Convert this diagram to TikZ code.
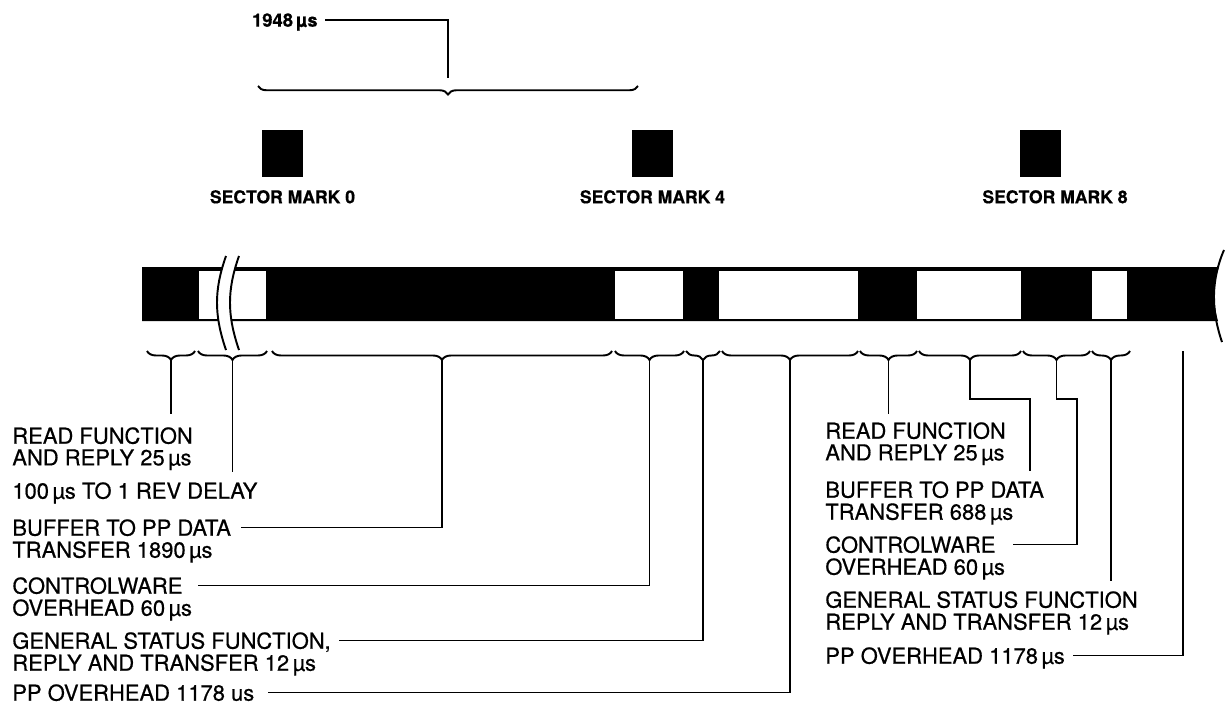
\documentclass[tikz,border=0pt]{standalone}
\usepackage{fontspec}
\setmainfont{TeX Gyre Heros}[FakeBold=0.6]
\usetikzlibrary{positioning,decorations.pathreplacing}

\begin{document}
\begin{tikzpicture}[
    x=0.02cm, y=-0.02cm,
    lbl/.style={font=\fontsize{12.5}{14}\selectfont, inner sep=0pt, text depth=0pt, anchor=west},
    lbltwo/.style={lbl, below=2.8pt of #1.south west, anchor=north west},
    smlbl/.style={font=\fontsize{10}{12}\selectfont\bfseries, inner sep=0pt, text depth=0pt},
    sectormark/.style={fill=black, minimum width=0.82cm, minimum height=0.94cm, inner sep=0pt},
    conn/.style={line width=0.9pt},
    brc/.style={decorate, decoration={brace, mirror, amplitude=0.18cm}, line width=1.1pt}
]
\useasboundingbox (0,0) rectangle (1225,703);

% Sector marks
\node[sectormark] (m0) at (282.5,153.5) {};
\node[sectormark] (m4) at (652.5,153.5) {};
\node[sectormark] (m8) at (1040,153.5) {};
\node[smlbl, below=0.25cm of m0] (s0) {SECTOR MARK 0};
\node[smlbl, below=0.25cm of m4] (s4) {SECTOR MARK 4};
\node[smlbl, below=0.25cm of m8, xshift=0.3cm] (s8) {SECTOR MARK 8};

% Time between marks
\node[smlbl, font=\fontsize{10.5}{13}\selectfont\bfseries, anchor=east] (n1948) at (318,20) {1948\,µs};
\draw[brc, decoration={brace, amplitude=0.17cm}] (258,86) -- coordinate[pos=0.5, yshift=0.17cm] (top) (638,86);
\draw[conn] ([xshift=0.14cm]n1948.east) -| (top);

% Track
\fill (142,267) -- (1219,267) .. controls (1213,285) and (1213,303) .. (1218,321) -- (142,321) -- cycle;
\draw[line width=1.1pt] (1224,250) .. controls (1211,280) and (1211,310) .. (1222,342);
\foreach \a/\b in {199/266, 615/683, 719/858, 917/1021, 1092/1127}
    \fill[white] (\a,271) rectangle (\b,319);

% Break in the track
\fill[white] (226,256) .. controls (214,290) and (214,315) .. (226,350) -- (239,350) .. controls (227,315) and (227,290) .. (239,256) -- cycle;
\draw[line width=1.1pt] (226,256) .. controls (214,290) and (214,315) .. (226,350);
\draw[line width=1.1pt] (239,256) .. controls (227,290) and (227,315) .. (239,350);

% Braces under the track
\foreach \a/\b/\n in {147/195/1, 198/267/2, 272/612/3, 615/684/4, 686/720/5, 722/858/6, 860/917/7, 919/1021/8, 1023/1090/9, 1092/1130/10}
    \draw[brc] (\a,351) -- coordinate[pos=0.5, yshift=-0.18cm] (b\n) (\b,351);
\coordinate (ppr) at (1183,351);
\coordinate (j8) at (1030,399);
\coordinate (j9) at (1077,399);

% Left labels
\node[lbl] (lrf) at (12,435.5) {READ FUNCTION};
\node[lbltwo=lrf] (lrf2) {AND REPLY 25\,µs};
\node[lbl] (ldel) at (12,490.5) {100\,µs TO 1 REV DELAY};
\node[lbl] (lbuf) at (12,527.5) {BUFFER TO PP DATA};
\node[lbltwo=lbuf] (lbuf2) {TRANSFER 1890\,µs};
\node[lbl] (lcw) at (12,585.5) {CONTROLWARE};
\node[lbltwo=lcw] (lcw2) {OVERHEAD 60\,µs};
\node[lbl] (lgs) at (12,640.5) {GENERAL STATUS FUNCTION,};
\node[lbltwo=lgs] (lgs2) {REPLY AND TRANSFER 12\,µs};
\node[lbl] (lpp) at (12,692.5) {PP OVERHEAD 1178 us};

% Right labels
\node[lbl] (rrf) at (825,430.5) {READ FUNCTION};
\node[lbltwo=rrf] (rrf2) {AND REPLY 25\,µs};
\node[lbl] (rbuf) at (825,489.5) {BUFFER TO PP DATA};
\node[lbltwo=rbuf] (rbuf2) {TRANSFER 688\,µs};
\node[lbl] (rcw) at (825,544.5) {CONTROLWARE};
\node[lbltwo=rcw] (rcw2) {OVERHEAD 60\,µs};
\node[lbl] (rgs) at (825,599.5) {GENERAL STATUS FUNCTION};
\node[lbltwo=rgs] (rgs2) {REPLY AND TRANSFER 12\,µs};
\node[lbl] (rpp) at (825,655.5) {PP OVERHEAD 1178\,µs};

% Leaders, left group
\draw[conn] (b1) -- ([yshift=0.26cm]b1 |- lrf.north);
\draw[conn] (b2) -- ([yshift=0.2cm]b2 |- ldel.north);
\draw[conn] (b3) |- ([xshift=0.2cm]lbuf.east);
\draw[conn] (b4) |- ([xshift=0.3cm]lcw.east);
\draw[conn] (b5) |- ([xshift=0.16cm]lgs.east);
\draw[conn] (b6) |- ([xshift=0.26cm]lpp.east);

% Leaders, right group
\draw[conn] (b7) -- ([yshift=0.16cm]b7 |- rrf.north);
\draw[conn] (b8) |- (j8) -- ([yshift=0.2cm]j8 |- rbuf.north);
\draw[conn] (b9) |- (j9) |- ([xshift=0.34cm]rcw.east);
\draw[conn] (b10) -- ([yshift=0.2cm]b10 |- rgs.north);
\draw[conn] (ppr) |- ([xshift=0.16cm]rpp.east);

\end{tikzpicture}
\end{document}
